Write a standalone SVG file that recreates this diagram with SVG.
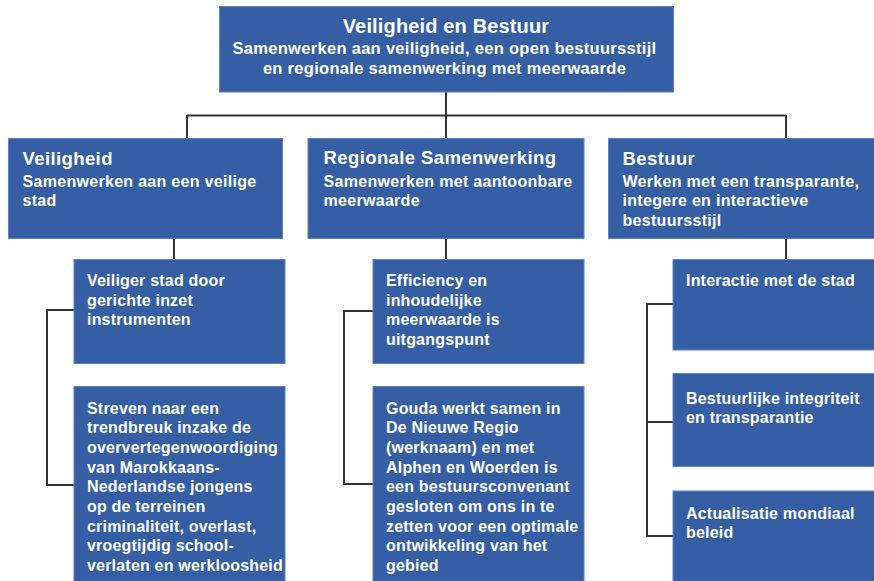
<svg xmlns="http://www.w3.org/2000/svg" width="874" height="581" viewBox="0 0 874 581">
<style>
.box{fill:#365ea5;stroke:#5f82c2;stroke-width:1}
.con{fill:none;stroke:#333;stroke-width:2}
text{font-family:"Liberation Sans",Arial,sans-serif;font-weight:bold;fill:#fff}
.t0{font-size:20px;letter-spacing:0.15px;text-anchor:middle}
.s0{font-size:16.5px;letter-spacing:0.3px;text-anchor:middle}
.t1{font-size:18.5px;letter-spacing:0.4px}
.s1{font-size:16px;letter-spacing:0.3px}
.t2{font-size:16px;letter-spacing:0.2px}
</style>
<rect width="874" height="581" fill="#fff"/>
<g id="connectors">
<path class="con" d="M446 92V138M187 115.5H786M187 115V138M786 115V138"/>
<path class="con" d="M174 239V259M446 239V259M786 239V259"/>
<path class="con" d="M74 310H47V485H74"/>
<path class="con" d="M373 311H344V484H373"/>
<path class="con" d="M673 304H647V536H673M647 422H673"/>
</g>
<g id="root">
<rect class="box" x="219.5" y="6.5" width="454" height="85.5"/>
<text class="t0" x="446" y="32.5">Veiligheid en Bestuur</text>
<text class="s0" x="444.5" y="53.5">Samenwerken aan veiligheid, een open bestuursstijl</text>
<text class="s0" x="444.5" y="74">en regionale samenwerking met meerwaarde</text>
</g>
<g id="veiligheid">
<rect class="box" x="8.5" y="138.5" width="274" height="100"/>
<text class="t1" x="22.5" y="164.5">Veiligheid</text>
<text class="s1" x="22.5" y="187">Samenwerken aan een veilige</text>
<text class="s1" x="22.5" y="206.3">stad</text>
</g>
<g id="regionale">
<rect class="box" x="308" y="138.5" width="276" height="100"/>
<text class="t1" x="323.5" y="164">Regionale Samenwerking</text>
<text class="s1" x="323.5" y="187">Samenwerken met aantoonbare</text>
<text class="s1" x="323.5" y="206.3">meerwaarde</text>
</g>
<g id="bestuur">
<rect class="box" x="608.5" y="138.5" width="280" height="100"/>
<text class="t1" x="622.5" y="164.5">Bestuur</text>
<text class="s1" x="622.5" y="187">Werken met een transparante,</text>
<text class="s1" x="622.5" y="206.3">integere en interactieve</text>
<text class="s1" x="622.5" y="225.6">bestuursstijl</text>
</g>
<g id="veiliger">
<rect class="box" x="74" y="259.5" width="211" height="104"/>
<text class="t2" x="87" y="286">Veiliger stad door</text>
<text class="t2" x="87" y="305.7">gerichte inzet</text>
<text class="t2" x="87" y="325.4">instrumenten</text>
</g>
<g id="streven">
<rect class="box" x="74" y="386.5" width="211" height="210"/>
<text class="t2" x="87" y="413.5">Streven naar een</text>
<text class="t2" x="87" y="433.2">trendbreuk inzake de</text>
<text class="t2" x="87" y="452.9">oververtegenwoordiging</text>
<text class="t2" x="87" y="472.6">van Marokkaans-</text>
<text class="t2" x="87" y="492.3">Nederlandse jongens</text>
<text class="t2" x="87" y="512">op de terreinen</text>
<text class="t2" x="87" y="531.7">criminaliteit, overlast,</text>
<text class="t2" x="87" y="551.4">vroegtijdig school-</text>
<text class="t2" x="87" y="571.1">verlaten en werkloosheid</text>
</g>
<g id="efficiency">
<rect class="box" x="373" y="259.5" width="211" height="104"/>
<text class="t2" x="386" y="286">Efficiency en</text>
<text class="t2" x="386" y="305.7">inhoudelijke</text>
<text class="t2" x="386" y="325.4">meerwaarde is</text>
<text class="t2" x="386" y="345.1">uitgangspunt</text>
</g>
<g id="gouda">
<rect class="box" x="373" y="386.5" width="211" height="210"/>
<text class="t2" x="386" y="413.5">Gouda werkt samen in</text>
<text class="t2" x="386" y="433.2">De Nieuwe Regio</text>
<text class="t2" x="386" y="452.9">(werknaam) en met</text>
<text class="t2" x="386" y="472.6">Alphen en Woerden is</text>
<text class="t2" x="386" y="492.3">een bestuursconvenant</text>
<text class="t2" x="386" y="512">gesloten om ons in te</text>
<text class="t2" x="386" y="531.7">zetten voor een optimale</text>
<text class="t2" x="386" y="551.4">ontwikkeling van het</text>
<text class="t2" x="386" y="571.1">gebied</text>
</g>
<g id="interactie">
<rect class="box" x="673" y="259.5" width="215" height="90.5"/>
<text class="t2" x="686" y="286">Interactie met de stad</text>
</g>
<g id="integriteit">
<rect class="box" x="673" y="373.5" width="215" height="93"/>
<text class="t2" x="686" y="403.5">Bestuurlijke integriteit</text>
<text class="t2" x="686" y="423">en transparantie</text>
</g>
<g id="mondiaal">
<rect class="box" x="673" y="491" width="215" height="110"/>
<text class="t2" x="686" y="518.5">Actualisatie mondiaal</text>
<text class="t2" x="686" y="538">beleid</text>
</g>
</svg>
